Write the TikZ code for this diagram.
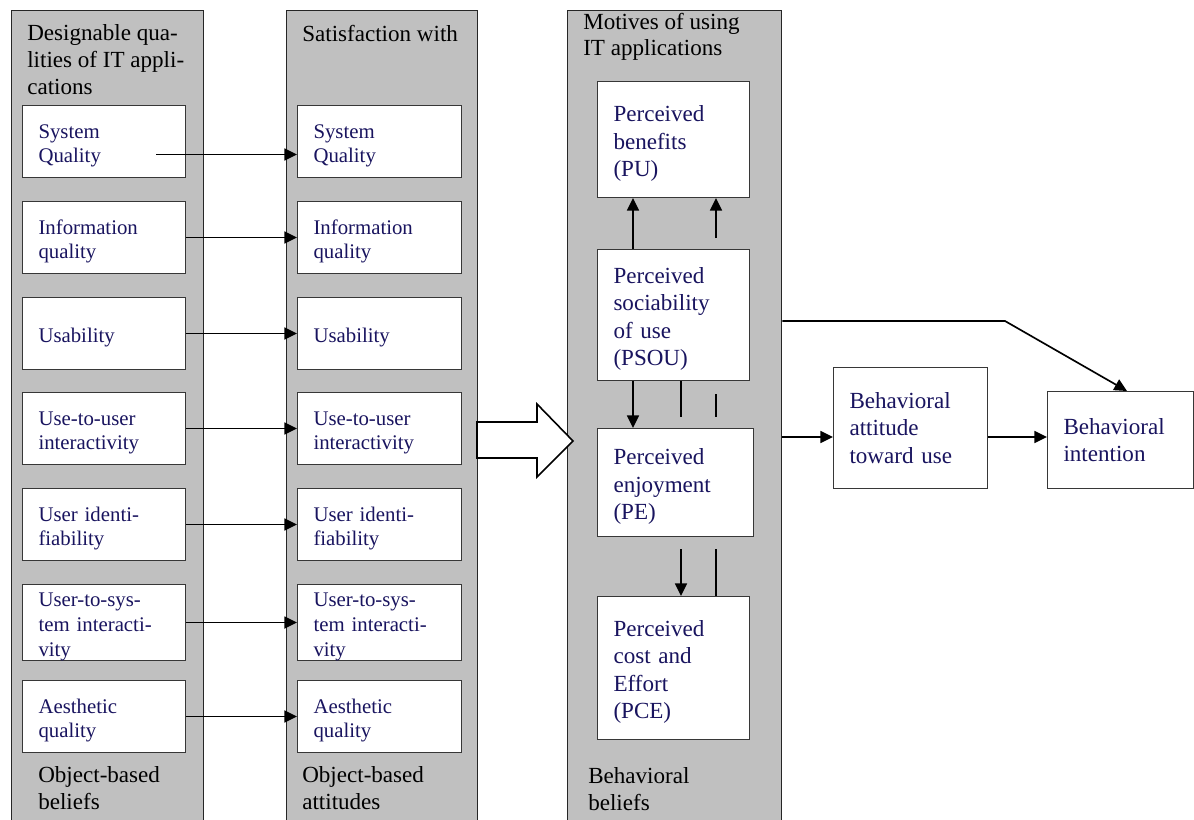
\documentclass[tikz,border=0pt]{standalone}
\usepackage{fontspec}
\setmainfont{Liberation Serif}
\usetikzlibrary{arrows.meta}
\definecolor{panelgray}{RGB}{192,192,192}
\definecolor{navy}{RGB}{25,20,95}
\definecolor{boxline}{RGB}{55,55,55}
\begin{document}
\begin{tikzpicture}[x=0.75pt,y=-0.75pt,
  panel/.style={draw=black!85, line width=1.1pt, fill=panelgray, anchor=north west, inner sep=0pt, minimum height=615pt},
  lbl/.style={anchor=north west, inner sep=0pt, align=left, text=black, font=\fontsize{17.3}{20.2}\selectfont},
  abox/.style={draw=boxline, line width=0.75pt, fill=white, anchor=north west, inner xsep=12pt, inner ysep=0pt, align=left, text=navy},
  sbox/.style={abox, font=\fontsize{15.6}{18.4}\selectfont, minimum height=54pt, text width=98.25pt, execute at begin node={\rule{0pt}{1.08em}}},
  bbox/.style={abox, font=\fontsize{17.3}{20.6}\selectfont},
  strutted/.style={execute at begin node={\rule{0pt}{1.05em}}},
  conn/.style={line width=1.25pt, -{Triangle[length=9.5pt,width=9pt]}},
  plain/.style={line width=1.25pt},
  hollow/.style={draw=black, line width=1.2pt, fill=white, line join=miter}
]
\useasboundingbox (0,0) rectangle (1194,819);
\clip (0,0) rectangle (1194,819);

% panels
\node[panel, minimum width=144pt] (P1) at (11,10) {};
\node[panel, minimum width=143.25pt] (P2) at (286,10) {};
\node[panel, minimum width=160.5pt] (P3) at (567,10) {};

% panel labels
\node[lbl] (h1) at (27,24.7) {Designable qua-\\lities of IT appli-\\cations};
\node[lbl] (h2) at (302,24.9) {Satisfaction with};
\node[lbl] (h3) at (583,12.5) {Motives of using\\IT applications};
\node[lbl] (f1) at (38,765.9) {Object-based\\beliefs};
\node[lbl] (f2) at (302,765.9) {Object-based\\attitudes};
\node[lbl] (f3) at (588,767.5) {Behavioral\\beliefs};

% left column boxes
\node[sbox] (L1) at (22,105) {System\\Quality};
\node[sbox] (L2) at (22,201) {Information\\quality};
\node[sbox] (L3) at (22,297) {Usability};
\node[sbox] (L4) at (22,392) {Use-to-user\\interactivity};
\node[sbox] (L5) at (22,488) {User identi-\\fiability};
\node[sbox] (L6) at (22,584) {User-to-sys-\\tem interacti-\\vity};
\node[sbox] (L7) at (22,680) {Aesthetic\\quality};

% second column boxes
\node[sbox, text width=99pt] (R1) at (297,105) {System\\Quality};
\node[sbox, text width=99pt] (R2) at (297,201) {Information\\quality};
\node[sbox, text width=99pt] (R3) at (297,297) {Usability};
\node[sbox, text width=99pt] (R4) at (297,392) {Use-to-user\\interactivity};
\node[sbox, text width=99pt] (R5) at (297,488) {User identi-\\fiability};
\node[sbox, text width=99pt] (R6) at (297,584) {User-to-sys-\\tem interacti-\\vity};
\node[sbox, text width=99pt] (R7) at (297,680) {Aesthetic\\quality};

% row arrows
\coordinate (s1) at ([xshift=-22.5pt,yshift=-9.75pt]L1.east);
\draw[conn] (s1) -- (s1 -| R1.west);
\draw[conn] (L2.east) -- (R2.west);
\draw[conn] (L3.east) -- (R3.west);
\draw[conn] (L4.east) -- (R4.west);
\draw[conn] (L5.east) -- (R5.west);
\draw[conn] (L6.east) -- (R6.west);
\draw[conn] (L7.east) -- (R7.west);

% motives boxes
\node[bbox, strutted, text width=90pt, minimum height=87pt] (PU) at (597,81) {Perceived\\benefits\\(PU)};
\node[bbox, strutted, text width=90pt, minimum height=98.25pt] (PSOU) at (597,249) {Perceived\\sociability\\of use\\(PSOU)};
\node[bbox, strutted, text width=93pt, minimum height=81pt] (PE) at (597,428) {Perceived\\enjoyment\\(PE)};
\node[bbox, strutted, text width=90pt, minimum height=107.25pt] (PCE) at (597,596) {Perceived\\cost and\\Effort\\(PCE)};

% behavioral boxes
\node[bbox, text width=91.5pt, minimum height=90.75pt] (BA) at (833,367) {Behavioral\\attitude\\toward use};
\node[bbox, text width=85.5pt, minimum height=72.75pt] (BI) at (1047,391) {Behavioral\\intention};

% arrows inside motives panel
\draw[conn] ([xshift=27pt]PSOU.north west) -- ([xshift=27pt]PU.south west);
\coordinate (b0) at ([xshift=89.25pt,yshift=-30pt]PU.south west);
\draw[conn] (b0) -- (b0 |- PU.south);
\draw[conn] ([xshift=27pt]PSOU.south west) -- ([xshift=27pt]PE.north west);
\coordinate (d1) at ([xshift=63pt,yshift=-27pt]PSOU.south west);
\draw[plain] ([xshift=63pt]PSOU.south west) -- (d1);
\coordinate (e0) at ([xshift=89.25pt,yshift=-9.75pt]PSOU.south west);
\draw[plain] (e0) -- (e0 |- d1);
\coordinate (f0) at ([xshift=63pt,yshift=-9pt]PE.south west);
\draw[conn] (f0) -- (f0 |- PCE.north);
\coordinate (g0) at ([xshift=89.25pt,yshift=-9pt]PE.south west);
\draw[plain] (g0) -- (g0 |- PCE.north);

% big hollow arrow
\draw[hollow] (477,422) -- (537,422) -- (537,404) -- (573,441) -- (537,477) -- (537,458) -- (477,458) -- cycle;

% right side connectors
\coordinate (k) at (1005,321);
\draw[conn] (k -| P3.east) -- (k) -- ([xshift=60pt]BI.north west);
\coordinate (ay) at (0,437);
\draw[conn] (ay -| P3.east) -- (ay -| BA.west);
\draw[conn] (ay -| BA.east) -- (ay -| BI.west);
\end{tikzpicture}
\end{document}
